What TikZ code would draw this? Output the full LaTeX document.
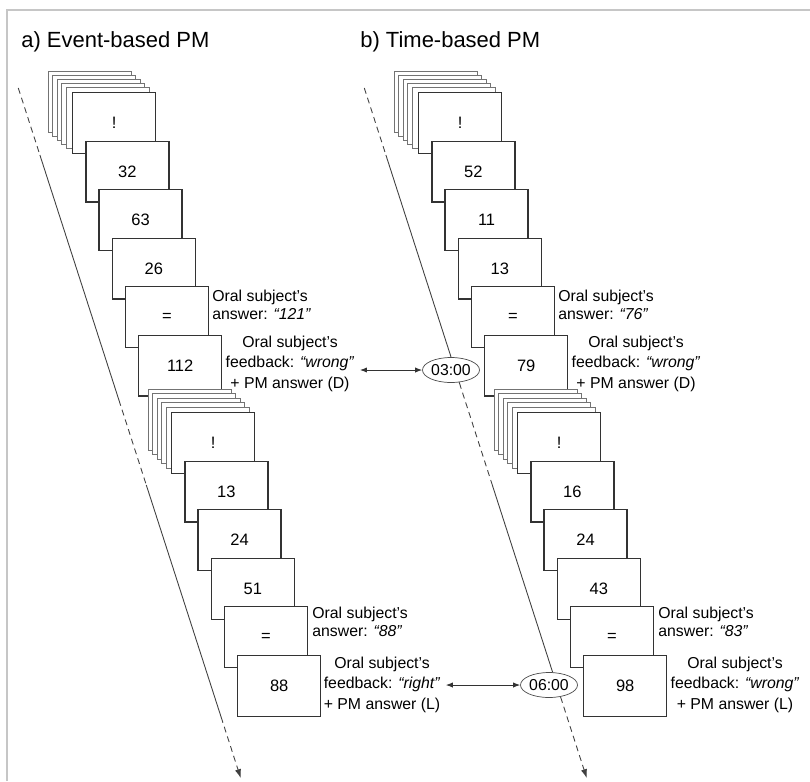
\documentclass[tikz,border=0pt]{standalone}
\usepackage{fontspec}
\setmainfont{Liberation Sans}
\usetikzlibrary{arrows.meta, shapes.geometric}

\begin{document}
\begin{tikzpicture}[
  x=0.02cm, y=-0.02cm,
  frame/.style={draw=gray!45, line width=0.6pt},
  title/.style={font=\fontsize{12.5}{14}\selectfont, inner sep=0pt, anchor=base west},
  card/.style={draw=black!80, line width=0.8pt, fill=white, minimum width=1.66cm, minimum height=1.22cm, inner sep=0pt, anchor=north west, font=\fontsize{9.4}{11}\selectfont},
  backcard/.style={draw=black!55, line width=0.5pt, fill=white},
  answer/.style={anchor=north west, align=left, inner sep=0pt, font=\fontsize{9}{10.3}\selectfont},
  feedback/.style={anchor=north, align=center, inner xsep=3pt, inner ysep=0pt, font=\fontsize{9}{11.7}\selectfont},
  clock/.style={draw=black!70, ellipse, fill=white, minimum width=1.14cm, minimum height=0.5cm, inner sep=0pt, font=\fontsize{9}{11}\selectfont},
  timeline/.style={draw=black!75, line width=0.5pt},
  gap/.style={dash pattern=on 3.4pt off 2.4pt},
  tip/.style={-{Latex[length=5pt,width=3.5pt]}},
  link/.style={{Latex[length=4pt,width=3pt]}-{Latex[length=4pt,width=3pt]}, draw=black!80, line width=0.5pt}
]
\useasboundingbox (0,0) rectangle (810,781);
\draw[frame] (7,781) -- (7,10) -- (810,10);

% titles
\node[title] (titleA) at (21,47) {a) Event-based PM};
\node[title] (titleB) at (360,47) {b) Time-based PM};

% time axes
\coordinate (a0) at (18.3,88);
\coordinate (a1) at (39.9,155);
\coordinate (a2) at (118.9,400);
\coordinate (a3) at (146.3,485);
\coordinate (a4) at (221.1,717);
\coordinate (a5) at (240.7,778);
\draw[timeline, gap] (a0) -- (a1);
\draw[timeline] (a1) -- (a2);
\draw[timeline, gap] (a2) -- (a3);
\draw[timeline] (a3) -- (a4);
\draw[timeline, gap, tip] (a4) -- (a5);

\coordinate (b0) at (364.3,88);
\coordinate (b1) at (385.9,155);
\coordinate (b2) at (459.4,383);
\coordinate (b3) at (492.3,485);
\coordinate (b4) at (560.6,697);
\coordinate (b5) at (586.7,778);
\draw[timeline, gap] (b0) -- (b1);
\draw[timeline] (b1) -- (b2);
\draw[timeline, gap] (b2) -- (b3);
\draw[timeline] (b3) -- (b4);
\draw[timeline, gap, tip] (b4) -- (b5);

% a) event-based
\foreach \i in {0,...,4}
  \draw[backcard] ({48+4.6*\i},{71+4.2*\i}) rectangle ++(83,61);
\node[card] (e0) at (72,92) {!};
\node[card] (e1) at (85.2,140.5) {32};
\node[card] (e2) at (98.4,189) {63};
\node[card] (e3) at (111.6,237.5) {26};
\node[card] (e4) at (124.8,286) {=};
\node[card] (e5) at (138,334.5) {112};
\foreach \i in {0,...,4}
  \draw[backcard] ({148+4.6*\i},{389+4.6*\i}) rectangle ++(83,61);
\node[card] (f0) at (171,412) {!};
\node[card] (f1) at (184.2,460.5) {13};
\node[card] (f2) at (197.4,509) {24};
\node[card] (f3) at (210.6,557.5) {51};
\node[card] (f4) at (223.8,606) {=};
\node[card] (f5) at (237,654.5) {88};

\node[answer] (ansA1) at (212,290) {Oral subject's\\answer: \textit{“121”}};
\node[feedback] (fbA1) at (290,335.5) {Oral subject's\\feedback: \textit{“wrong”}\\+ PM answer (D)};
\node[answer] (ansA2) at (312,606.5) {Oral subject's\\answer: \textit{“88”}};
\node[feedback] (fbA2) at (382,656.5) {Oral subject's\\feedback: \textit{“right”}\\+ PM answer (L)};

% b) time-based
\foreach \i in {0,...,4}
  \draw[backcard] ({394+4.6*\i},{71+4.2*\i}) rectangle ++(83,61);
\node[card] (t0) at (418,92) {!};
\node[card] (t1) at (431.2,140.5) {52};
\node[card] (t2) at (444.4,189) {11};
\node[card] (t3) at (457.6,237.5) {13};
\node[card] (t4) at (470.8,286) {=};
\node[card] (t5) at (484,334.5) {79};
\foreach \i in {0,...,4}
  \draw[backcard] ({494+4.6*\i},{389+4.6*\i}) rectangle ++(83,61);
\node[card] (u0) at (517,412) {!};
\node[card] (u1) at (530.2,460.5) {16};
\node[card] (u2) at (543.4,509) {24};
\node[card] (u3) at (556.6,557.5) {43};
\node[card] (u4) at (569.8,606) {=};
\node[card] (u5) at (583,654.5) {98};

\node[answer] (ansB1) at (558,290) {Oral subject's\\answer: \textit{“76”}};
\node[feedback] (fbB1) at (636,335.5) {Oral subject's\\feedback: \textit{“wrong”}\\+ PM answer (D)};
\node[answer] (ansB2) at (658,606.5) {Oral subject's\\answer: \textit{“83”}};
\node[feedback] (fbB2) at (735,656.5) {Oral subject's\\feedback: \textit{“wrong”}\\+ PM answer (L)};

% clock times
\node[clock] (T1) at (451,370) {03:00};
\node[clock] (T2) at (549,685) {06:00};

\draw[link] (fbA1.east |- T1) -- (T1);
\draw[link] (fbA2.east |- T2) -- (T2);
\end{tikzpicture}
\end{document}
